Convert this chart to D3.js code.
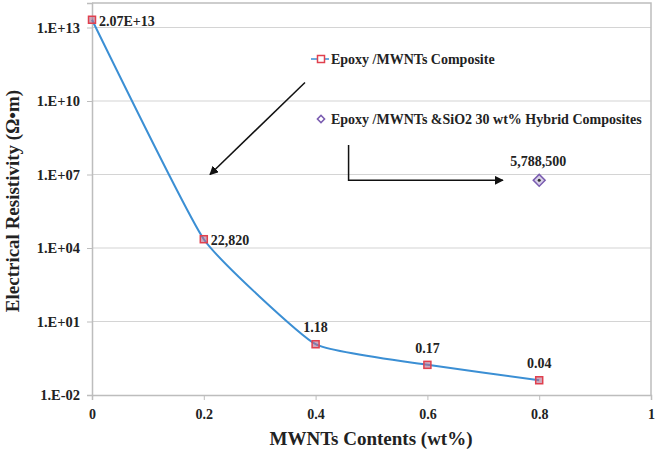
<!DOCTYPE html>
<html>
<head>
<meta charset="utf-8">
<script src="https://cdn.jsdelivr.net/npm/d3@7"></script>
<style>
  body { margin: 0; background: #fff; }
  svg text { font-family: "Liberation Serif", "Times New Roman", serif !important; font-weight: bold; fill: #222; }
</style>
</head>
<body>
<div id="chart"></div>
<script>
// data
const mwntContent = [0, 0.2, 0.4, 0.6, 0.8];
const resistivity = [2.07e13, 22820, 1.18, 0.17, 0.04];
const pointLabels = ["2.07E+13", "22,820", "1.18", "0.17", "0.04"];

const hybridContent = [0.8];
const hybridResistivity = [5788500];
const hybridLabels = ["5,788,500"];

const xTicks = [0, 0.2, 0.4, 0.6, 0.8, 1];
const xTickLabels = ["0", "0.2", "0.4", "0.6", "0.8", "1"];
const yTicks = [1e-2, 1e1, 1e4, 1e7, 1e10, 1e13];
const yTickLabels = ["1.E-02", "1.E+01", "1.E+04", "1.E+07", "1.E+10", "1.E+13"];

const seriesNames = ["Epoxy /MWNTs Composite", "Epoxy /MWNTs &SiO2 30 wt% Hybrid Composites"];

// layout
const W = 659, H = 450;
const margin = {top: 3, right: 8, bottom: 55, left: 92};

const svg = d3.select("#chart").append("svg")
  .attr("width", W)
  .attr("height", H);

const x = d3.scaleLinear().domain([0, 1]).range([margin.left, W - margin.right]);
const y = d3.scaleLog().domain([1e-2, 1e14]).range([H - margin.bottom, margin.top]);

// gridlines
svg.append("g")
  .selectAll("line")
  .data(yTicks.slice(1))
  .enter().append("line")
  .attr("x1", x(0)).attr("x2", x(1))
  .attr("y1", d => y(d)).attr("y2", d => y(d))
  .style("stroke", "#d4d4d4")
  .style("stroke-width", 1.2);

// plot border (top/right)
svg.append("path")
  .attr("d", "M" + x(0) + "," + y(1e14) + "H" + x(1) + "V" + y(1e-2))
  .style("fill", "none")
  .style("stroke", "#bdbdbd")
  .style("stroke-width", 1.5);

// x axis
const xAxis = svg.append("g")
  .attr("transform", "translate(0," + y(1e-2) + ")")
  .call(d3.axisBottom(x).tickValues(xTicks).tickSize(5).tickPadding(9)
    .tickFormat((d, i) => xTickLabels[i]));
xAxis.select(".domain").style("stroke", "#bdbdbd").style("stroke-width", 1.5);
xAxis.selectAll(".tick line").style("stroke", "#bdbdbd");
xAxis.selectAll("text").style("font-size", "14px");

// y axis
const yAxis = svg.append("g")
  .attr("transform", "translate(" + x(0) + ",0)")
  .call(d3.axisLeft(y).tickValues(yTicks).tickSize(5).tickPadding(7)
    .tickFormat((d, i) => yTickLabels[i]));
yAxis.select(".domain").style("stroke", "#bdbdbd").style("stroke-width", 1.5);
yAxis.selectAll(".tick line").style("stroke", "#bdbdbd");
yAxis.selectAll("text").style("font-size", "14.5px");

// axis titles
svg.append("text")
  .attr("x", 371)
  .attr("y", 445)
  .attr("text-anchor", "middle")
  .style("font-size", "19px")
  .text("MWNTs Contents (wt%)");

svg.append("text")
  .attr("transform", "translate(19,201) rotate(-90)")
  .attr("text-anchor", "middle")
  .style("font-size", "19px")
  .text("Electrical Resistivity (Ω•m)");

// main series
const pts = mwntContent.map((d, i) => ({x: d, y: resistivity[i], label: pointLabels[i]}));

const line = d3.line()
  .x(d => x(d.x))
  .y(d => y(d.y))
  .curve(d3.curveCardinal.tension(0.6));

svg.append("path")
  .datum(pts)
  .attr("d", line)
  .style("fill", "none")
  .style("stroke", "#3b8fd4")
  .style("stroke-width", 2);

svg.selectAll(".mk")
  .data(pts)
  .enter().append("rect")
  .attr("class", "mk")
  .attr("x", d => x(d.x) - 3.5)
  .attr("y", d => y(d.y) - 3.5)
  .attr("width", 7).attr("height", 7)
  .style("fill", "#b07090")
  .style("fill-opacity", 0.6)
  .style("stroke", "#e0404e")
  .style("stroke-width", 1.5);

// point labels: first two to the right, the rest above
svg.selectAll(".pl")
  .data(pts)
  .enter().append("text")
  .attr("class", "pl")
  .attr("x", (d, i) => i < 2 ? x(d.x) + 7 : x(d.x))
  .attr("y", (d, i) => i < 2 ? y(d.y) + 6 : y(d.y) - 12)
  .attr("text-anchor", (d, i) => i < 2 ? "start" : "middle")
  .style("font-size", "14px")
  .text(d => d.label);

// hybrid series
const hpts = hybridContent.map((d, i) => ({x: d, y: hybridResistivity[i], label: hybridLabels[i]}));

svg.selectAll(".hm")
  .data(hpts)
  .enter().append("path")
  .attr("class", "hm")
  .attr("transform", d => "translate(" + x(d.x) + "," + y(d.y) + ") rotate(45)")
  .attr("d", d3.symbol().type(d3.symbolSquare).size(70))
  .style("fill", "#d8d0e8")
  .style("stroke", "#7a5cb0")
  .style("stroke-width", 1.5);

svg.selectAll(".hd")
  .data(hpts)
  .enter().append("circle")
  .attr("class", "hd")
  .attr("cx", d => x(d.x))
  .attr("cy", d => y(d.y))
  .attr("r", 1.5)
  .style("fill", "#333");

svg.selectAll(".hl")
  .data(hpts)
  .enter().append("text")
  .attr("class", "hl")
  .attr("x", d => x(d.x) - 1)
  .attr("y", d => y(d.y) - 14)
  .attr("text-anchor", "middle")
  .style("font-size", "14px")
  .text(d => d.label);

// legend
const lg = svg.append("g");
lg.append("line")
  .attr("x1", 311).attr("x2", 329).attr("y1", 59).attr("y2", 59)
  .style("stroke", "#3b8fd4").style("stroke-width", 1.5);
lg.append("rect")
  .attr("x", 317.5).attr("y", 55.5).attr("width", 7).attr("height", 7)
  .style("fill", "#fff").style("stroke", "#e0404e").style("stroke-width", 1.5);
lg.append("text")
  .attr("x", 331).attr("y", 64)
  .style("font-size", "14px")
  .text(seriesNames[0]);

lg.append("path")
  .attr("transform", "translate(321,119) rotate(45)")
  .attr("d", d3.symbol().type(d3.symbolSquare).size(26))
  .style("fill", "#fff").style("stroke", "#7a5cb0").style("stroke-width", 1.5);
lg.append("text")
  .attr("x", 331).attr("y", 124)
  .style("font-size", "14px")
  .text(seriesNames[1]);

// arrows
const defs = svg.append("defs");
defs.append("marker")
  .attr("id", "arrow")
  .attr("viewBox", "0 0 10 10")
  .attr("refX", 9).attr("refY", 5)
  .attr("markerWidth", 6).attr("markerHeight", 6)
  .attr("orient", "auto")
  .append("path")
  .attr("d", "M0,0L10,5L0,10z")
  .style("fill", "#111");

svg.append("line")
  .attr("x1", x(0.381)).attr("y1", y(5.7e10))
  .attr("x2", x(0.211)).attr("y2", y(1e7))
  .style("stroke", "#111").style("stroke-width", 1.5)
  .attr("marker-end", "url(#arrow)");

svg.append("path")
  .attr("d", "M" + x(0.459) + "," + y(1.6e8) + "V" + y(hybridResistivity[0]) + "H" + x(0.735))
  .style("fill", "none")
  .style("stroke", "#111").style("stroke-width", 1.5)
  .attr("marker-end", "url(#arrow)");
</script>
</body>
</html>
